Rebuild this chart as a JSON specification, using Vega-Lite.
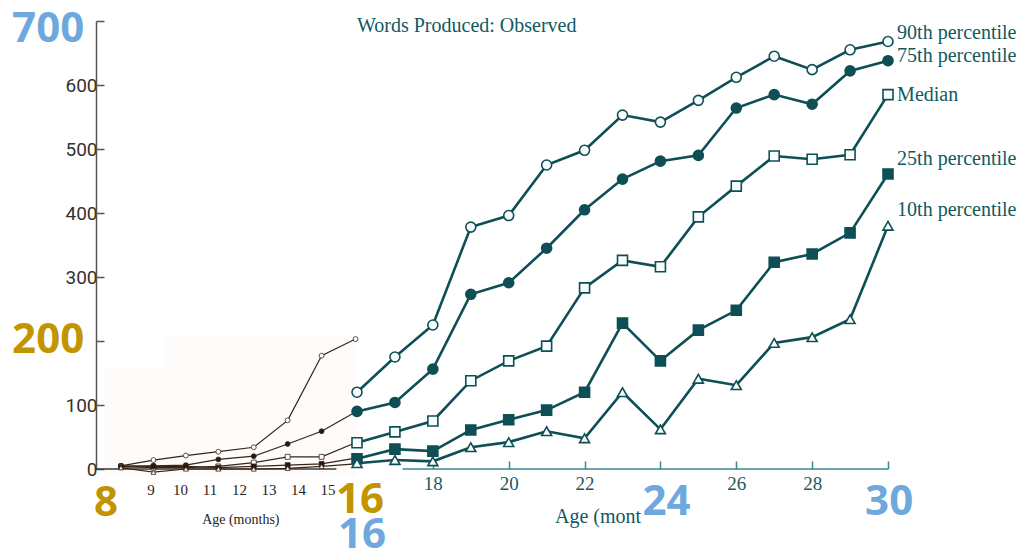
{
  "$schema": "https://vega.github.io/schema/vega-lite/v6.json",
  "autosize": "none",
  "width": 926,
  "height": 448,
  "padding": {"left": 96, "top": 21, "right": 0, "bottom": 83},
  "background": "white",
  "config": {"view": {"stroke": null}},
  "datasets": {
    "main": [
      {"age": 16, "value": 120, "series": "p90"}, {"age": 17, "value": 175, "series": "p90"}, {"age": 18, "value": 225, "series": "p90"}, {"age": 19, "value": 378, "series": "p90"}, {"age": 20, "value": 396, "series": "p90"}, {"age": 21, "value": 475, "series": "p90"}, {"age": 22, "value": 498, "series": "p90"}, {"age": 23, "value": 553, "series": "p90"}, {"age": 24, "value": 542, "series": "p90"}, {"age": 25, "value": 576, "series": "p90"}, {"age": 26, "value": 612, "series": "p90"}, {"age": 27, "value": 645, "series": "p90"}, {"age": 28, "value": 624, "series": "p90"}, {"age": 29, "value": 655, "series": "p90"}, {"age": 30, "value": 668, "series": "p90"},
      {"age": 16, "value": 90, "series": "p75"}, {"age": 17, "value": 104, "series": "p75"}, {"age": 18, "value": 156, "series": "p75"}, {"age": 19, "value": 273, "series": "p75"}, {"age": 20, "value": 291, "series": "p75"}, {"age": 21, "value": 345, "series": "p75"}, {"age": 22, "value": 405, "series": "p75"}, {"age": 23, "value": 453, "series": "p75"}, {"age": 24, "value": 481, "series": "p75"}, {"age": 25, "value": 490, "series": "p75"}, {"age": 26, "value": 564, "series": "p75"}, {"age": 27, "value": 585, "series": "p75"}, {"age": 28, "value": 570, "series": "p75"}, {"age": 29, "value": 622, "series": "p75"}, {"age": 30, "value": 638, "series": "p75"},
      {"age": 16, "value": 41, "series": "med"}, {"age": 17, "value": 58, "series": "med"}, {"age": 18, "value": 75, "series": "med"}, {"age": 19, "value": 138, "series": "med"}, {"age": 20, "value": 169, "series": "med"}, {"age": 21, "value": 192, "series": "med"}, {"age": 22, "value": 283, "series": "med"}, {"age": 23, "value": 326, "series": "med"}, {"age": 24, "value": 316, "series": "med"}, {"age": 25, "value": 394, "series": "med"}, {"age": 26, "value": 442, "series": "med"}, {"age": 27, "value": 489, "series": "med"}, {"age": 28, "value": 484, "series": "med"}, {"age": 29, "value": 491, "series": "med"}, {"age": 30, "value": 585, "series": "med"},
      {"age": 16, "value": 16, "series": "p25"}, {"age": 17, "value": 31, "series": "p25"}, {"age": 18, "value": 28, "series": "p25"}, {"age": 19, "value": 61, "series": "p25"}, {"age": 20, "value": 77, "series": "p25"}, {"age": 21, "value": 92, "series": "p25"}, {"age": 22, "value": 120, "series": "p25"}, {"age": 23, "value": 228, "series": "p25"}, {"age": 24, "value": 169, "series": "p25"}, {"age": 25, "value": 217, "series": "p25"}, {"age": 26, "value": 248, "series": "p25"}, {"age": 27, "value": 323, "series": "p25"}, {"age": 28, "value": 336, "series": "p25"}, {"age": 29, "value": 369, "series": "p25"}, {"age": 30, "value": 461, "series": "p25"},
      {"age": 16, "value": 9, "series": "p10"}, {"age": 17, "value": 14, "series": "p10"}, {"age": 18, "value": 12, "series": "p10"}, {"age": 19, "value": 34, "series": "p10"}, {"age": 20, "value": 42, "series": "p10"}, {"age": 21, "value": 59, "series": "p10"}, {"age": 22, "value": 48, "series": "p10"}, {"age": 23, "value": 120, "series": "p10"}, {"age": 24, "value": 62, "series": "p10"}, {"age": 25, "value": 141, "series": "p10"}, {"age": 26, "value": 131, "series": "p10"}, {"age": 27, "value": 197, "series": "p10"}, {"age": 28, "value": 206, "series": "p10"}, {"age": 29, "value": 234, "series": "p10"}, {"age": 30, "value": 380, "series": "p10"}
    ],
    "inset": [
      {"age": 8, "value": 5, "series": "p90"}, {"age": 9.1, "value": 14, "series": "p90"}, {"age": 10.2, "value": 21, "series": "p90"}, {"age": 11.3, "value": 27, "series": "p90"}, {"age": 12.5, "value": 34, "series": "p90"}, {"age": 13.65, "value": 76, "series": "p90"}, {"age": 14.8, "value": 177, "series": "p90"}, {"age": 15.95, "value": 203, "series": "p90"},
      {"age": 8, "value": 5, "series": "p75"}, {"age": 9.1, "value": 5, "series": "p75"}, {"age": 10.2, "value": 6, "series": "p75"}, {"age": 11.3, "value": 15, "series": "p75"}, {"age": 12.5, "value": 20, "series": "p75"}, {"age": 13.65, "value": 39, "series": "p75"}, {"age": 14.8, "value": 59, "series": "p75"}, {"age": 15.95, "value": 89, "series": "p75"},
      {"age": 8, "value": 4, "series": "med"}, {"age": 9.1, "value": 2, "series": "med"}, {"age": 10.2, "value": 2, "series": "med"}, {"age": 11.3, "value": 4, "series": "med"}, {"age": 12.5, "value": 10, "series": "med"}, {"age": 13.65, "value": 19, "series": "med"}, {"age": 14.8, "value": 19, "series": "med"}, {"age": 15.95, "value": 41, "series": "med"},
      {"age": 8, "value": 3, "series": "p25"}, {"age": 9.1, "value": 4, "series": "p25"}, {"age": 10.2, "value": 4, "series": "p25"}, {"age": 11.3, "value": 2, "series": "p25"}, {"age": 12.5, "value": 4, "series": "p25"}, {"age": 13.65, "value": 6, "series": "p25"}, {"age": 14.8, "value": 8, "series": "p25"}, {"age": 15.95, "value": 17, "series": "p25"},
      {"age": 8, "value": 2, "series": "p10"}, {"age": 9.1, "value": -5, "series": "p10"}, {"age": 10.2, "value": 0, "series": "p10"}, {"age": 11.3, "value": 0, "series": "p10"}, {"age": 12.5, "value": 0, "series": "p10"}, {"age": 13.65, "value": 1, "series": "p10"}, {"age": 14.8, "value": 4, "series": "p10"}, {"age": 15.95, "value": 8, "series": "p10"}
    ],
    "insetbg": [
      {"x1": 7.46, "x2": 16, "y1": -11, "y2": 159},
      {"x1": 9.46, "x2": 16, "y1": 158, "y2": 209}
    ],
    "baselines": [
      {"x1": 7.15, "x2": 15.3, "part": "inset"},
      {"x1": 17.2, "x2": 30, "part": "main"}
    ],
    "serieslabels": [
      {"age": 30.24, "value": 681, "text": "90th percentile"},
      {"age": 30.24, "value": 645, "text": "75th percentile"},
      {"age": 30.24, "value": 584, "text": "Median"},
      {"age": 30.24, "value": 484, "text": "25th percentile"},
      {"age": 30.24, "value": 405, "text": "10th percentile"}
    ],
    "texts": [
      {"age": 16, "value": 692, "text": "Words Produced: Observed", "kind": "title"},
      {"age": 21.22, "value": -75, "text": "Age (mont", "kind": "main"},
      {"age": 10.75, "value": -80, "text": "Age (months)", "kind": "inset"}
    ],
    "big": [
      {"age": 5.53, "value": 688, "text": "700", "kind": "main"},
      {"age": 5.53, "value": 202, "text": "200", "kind": "inset"},
      {"age": 7.49, "value": -53, "text": "8", "kind": "inset"},
      {"age": 16.08, "value": -48, "text": "16", "kind": "inset"},
      {"age": 16.13, "value": -103, "text": "16", "kind": "main"},
      {"age": 24.16, "value": -52, "text": "24", "kind": "main"},
      {"age": 30.03, "value": -52, "text": "30", "kind": "main"}
    ]
  },
  "resolve": {"scale": {"fill": "independent", "color": "independent", "size": "independent"}},
  "layer": [
    {
      "data": {"name": "insetbg"},
      "mark": {"type": "rect", "fill": "#fdfcfa"},
      "encoding": {
        "x": {"field": "x1", "type": "quantitative", "scale": {"domain": [8, 16, 30], "range": [25, 261, 792], "nice": false, "zero": false}, "axis": {
          "values": [8, 9, 10, 11, 12, 13, 14, 15, 18, 20, 22, 24, 26, 28, 30],
          "title": null,
          "domain": false,
          "grid": false,
          "labelExpr": "datum.value == 8 || datum.value == 24 || datum.value == 30 ? '' : datum.label",
          "labelFont": "Liberation Serif",
          "labelFontSize": {"condition": {"test": "datum.value < 16", "value": 15}, "value": 19},
          "labelColor": {"condition": {"test": "datum.value < 16", "value": "#2a2420"}, "value": "#1b5a60"},
          "labelPadding": {"condition": {"test": "datum.value < 16", "value": 21}, "value": 13},
          "labelBaseline": "top",
          "tickSize": -8,
          "tickWidth": 1.5,
          "tickColor": {"condition": {"test": "datum.value > 16", "value": "#3b8a90"}, "value": "transparent"}
        }},
        "x2": {"field": "x2"},
        "y": {"field": "y1", "type": "quantitative", "scale": {"domain": [0, 700], "nice": false, "zero": false}, "axis": {
          "values": [0, 100, 200, 300, 400, 500, 600, 700],
          "title": null,
          "grid": false,
          "domainColor": "#555555",
          "domainWidth": 1.5,
          "tickColor": "#555555",
          "tickWidth": 1.5,
          "tickSize": -8,
          "labelPadding": 7,
          "labelFont": "Roboto",
          "labelFontSize": 19,
          "labelColor": "#333333",
          "labelExpr": "datum.value == 700 || datum.value == 200 ? '' : datum.label"
        }},
        "y2": {"field": "y2"}
      }
    },
    {
      "data": {"name": "baselines"},
      "mark": {"type": "rule", "strokeWidth": 1.5},
      "encoding": {
        "x": {"field": "x1", "type": "quantitative"},
        "x2": {"field": "x2"},
        "y": {"datum": 0, "type": "quantitative"},
        "color": {"field": "part", "type": "nominal", "scale": {"domain": ["inset", "main"], "range": ["#3a3a3a", "#3b8a90"]}, "legend": null}
      }
    },
    {
      "data": {"name": "inset"},
      "mark": {"type": "line", "color": "#3a2415", "strokeWidth": 1.2},
      "encoding": {
        "x": {"field": "age", "type": "quantitative"},
        "y": {"field": "value", "type": "quantitative"},
        "detail": {"field": "series"}
      }
    },
    {
      "data": {"name": "inset"},
      "mark": {"type": "point", "filled": true, "stroke": "#3a2415", "strokeWidth": 0.8, "opacity": 1},
      "encoding": {
        "x": {"field": "age", "type": "quantitative"},
        "y": {"field": "value", "type": "quantitative"},
        "shape": {"field": "series", "type": "nominal", "scale": {"domain": ["p90", "p75", "med", "p25", "p10"], "range": ["circle", "circle", "square", "square", "triangle-up"]}, "legend": null},
        "fill": {"field": "series", "type": "nominal", "scale": {"domain": ["p90", "p75", "med", "p25", "p10"], "range": ["#ffffff", "#2a180c", "#ffffff", "#2a180c", "#ffffff"]}, "legend": null},
        "size": {"value": 24}
      }
    },
    {
      "data": {"name": "main"},
      "mark": {"type": "line", "color": "#0e4f55", "strokeWidth": 2.6},
      "encoding": {
        "x": {"field": "age", "type": "quantitative"},
        "y": {"field": "value", "type": "quantitative"},
        "detail": {"field": "series"}
      }
    },
    {
      "data": {"name": "main"},
      "mark": {"type": "point", "filled": true, "stroke": "#0e4f55", "strokeWidth": 1.6, "opacity": 1},
      "encoding": {
        "x": {"field": "age", "type": "quantitative"},
        "y": {"field": "value", "type": "quantitative"},
        "shape": {"field": "series", "type": "nominal", "legend": null},
        "fill": {"field": "series", "type": "nominal", "scale": {"domain": ["p90", "p75", "med", "p25", "p10"], "range": ["#f8fcfc", "#0e4f55", "#f8fcfc", "#0e4f55", "#f8fcfc"]}, "legend": null},
        "size": {"value": 100}
      }
    },
    {
      "data": {"name": "serieslabels"},
      "mark": {"type": "text", "align": "left", "baseline": "middle", "font": "Liberation Serif", "fontSize": 20, "color": "#105a60"},
      "encoding": {
        "x": {"field": "age", "type": "quantitative"},
        "y": {"field": "value", "type": "quantitative"},
        "text": {"field": "text"}
      }
    },
    {
      "data": {"name": "texts"},
      "mark": {"type": "text", "align": "left", "baseline": "middle", "font": "Liberation Serif"},
      "encoding": {
        "x": {"field": "age", "type": "quantitative"},
        "y": {"field": "value", "type": "quantitative"},
        "text": {"field": "text"},
        "color": {"field": "kind", "type": "nominal", "scale": {"domain": ["title", "main", "inset"], "range": ["#105a60", "#105a60", "#2a2420"]}, "legend": null},
        "size": {"field": "kind", "type": "nominal", "scale": {"type": "ordinal", "domain": ["title", "main", "inset"], "range": [20, 20, 14]}, "legend": null}
      }
    },
    {
      "data": {"name": "big"},
      "mark": {"type": "text", "align": "center", "baseline": "middle", "font": "Open Sans", "fontWeight": "bold", "fontSize": 42},
      "encoding": {
        "x": {"field": "age", "type": "quantitative"},
        "y": {"field": "value", "type": "quantitative"},
        "text": {"field": "text"},
        "color": {"field": "kind", "type": "nominal", "scale": {"domain": ["inset", "main"], "range": ["#c29500", "#6fa8dc"]}, "legend": null}
      }
    }
  ]
}
